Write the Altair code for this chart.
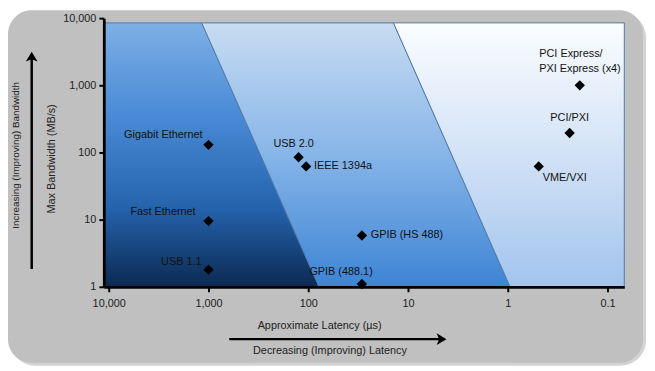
import altair as alt
import pandas as pd

# ---------------- data ----------------
names = ["Gigabit Ethernet", "USB 2.0", "IEEE 1394a", "Fast Ethernet", "USB 1.1",
         "GPIB (HS 488)", "GPIB (488.1)", "PCI Express/\nPXI Express (x4)", "PCI/PXI", "VME/VXI"]
latency_us = [1000, 125, 105, 1000, 1000, 29, 29, 0.19, 0.24, 0.49]
bandwidth_mbs = [130, 85, 62, 9.5, 1.8, 5.8, 1.1, 1000, 195, 62]

x_ticks = [10000, 1000, 100, 10, 1, 0.1]
x_tick_labels = ["10,000", "1,000", "100", "10", "1", "0.1"]
y_ticks = [1, 10, 100, 1000, 10000]
y_tick_labels = ["1", "10", "100", "1,000", "10,000"]

x_domain = [0.068, 11200]
y_domain = [1, 10000]

# region boundaries (latency at bandwidth = 1 and at the top of the shaded zone)
zone_bandwidth = [1, 8500]
boundary_1 = [78, 1170]
boundary_2 = [0.95, 14]

FONT = "Liberation Sans"

df = pd.DataFrame({"name": names, "latency": latency_us, "bandwidth": bandwidth_mbs})


def lookup_expr(vals, labels):
    pairs = ", ".join(f"'{v}': '{l}'" for v, l in zip(vals, labels))
    return "{" + pairs + "}[toString(datum.value)]"


x_scale = alt.Scale(type="log", domain=x_domain, reverse=True, nice=False)
y_scale = alt.Scale(type="log", domain=y_domain, nice=False)

x_axis = alt.Axis(values=x_ticks, labelExpr=lookup_expr(x_ticks, x_tick_labels),
                  title="Approximate Latency (µs)", titleX=218, titleY=39,
                  titleAlign="center", titleBaseline="middle",
                  grid=False, domainColor="black", domainWidth=2.8,
                  tickColor="black", tickWidth=2, tickSize=5, labelPadding=6,
                  labelFont=FONT, labelFontSize=11, labelColor="#222222",
                  titleFont=FONT, titleFontSize=11, titleFontWeight="normal",
                  titleColor="#222222", zindex=1, labelFlush=False, labelOverlap=False)
y_axis = alt.Axis(values=y_ticks, labelExpr=lookup_expr(y_ticks, y_tick_labels),
                  title="Max  Bandwidth (MB/s)", titleX=-53, titleY=142, titleAngle=270,
                  titleAlign="center", titleBaseline="middle",
                  grid=False, domainColor="black", domainWidth=2.8,
                  tickColor="black", tickWidth=2, tickSize=5, labelPadding=3,
                  labelFont=FONT, labelFontSize=11, labelColor="#222222",
                  titleFont=FONT, titleFontSize=11, titleFontWeight="normal",
                  titleColor="#222222", zindex=1, labelFlush=False, labelOverlap=False)

one = pd.DataFrame({"a": [0]})

# background panel with a soft shadow
shadow = alt.Chart(one).mark_rect(color="#a8a8a8", cornerRadius=26, opacity=0.5).encode(
    x=alt.value(-95), x2=alt.value(549), y=alt.value(-6), y2=alt.value(352))
bg = alt.Chart(one).mark_rect(color="#c0c0c0", cornerRadius=24).encode(
    x=alt.value(-97), x2=alt.value(546), y=alt.value(-8), y2=alt.value(349))


def grad(stops):
    return alt.Gradient(gradient="linear", x1=0, x2=0, y1=1, y2=0,
                        stops=[alt.GradientStop(color=c, offset=o) for o, c in stops])


def zone(left, right, stops):
    d = pd.DataFrame({"bw": zone_bandwidth, "lx": left, "rx": right})
    enc = dict(
        y=alt.Y("bw:Q", scale=y_scale, axis=y_axis),
        x=alt.X("lx:Q", scale=x_scale, axis=x_axis),
        x2="rx:Q",
    )
    return alt.Chart(d).mark_area(orient="horizontal", color=grad(stops),
                                  stroke="#4f78a8", strokeWidth=1).encode(**enc)


z1 = zone([x_domain[1]] * 2, boundary_1,
          [(0, "#0b2a52"), (0.3, "#2563ad"), (0.65, "#4a8ad6"), (1, "#7db0e5")])
z2 = zone(boundary_1, boundary_2,
          [(0, "#3d84d4"), (0.5, "#86b5e8"), (1, "#c8dcf2")])
z3 = zone(boundary_2, [x_domain[0]] * 2,
          [(0, "#a2c4ed"), (0.5, "#d2e2f6"), (1, "#fbfdff")])

base = alt.Chart(df).encode(
    x=alt.X("latency:Q", scale=x_scale, axis=x_axis),
    y=alt.Y("bandwidth:Q", scale=y_scale, axis=y_axis),
)
points = base.mark_point(shape="diamond", filled=True, color="black", size=110, opacity=1)

label_style = {
    "Gigabit Ethernet": ("right", -6, -10),
    "USB 2.0": ("center", -5, -13),
    "IEEE 1394a": ("left", 8, 0),
    "Fast Ethernet": ("right", -13, -9),
    "USB 1.1": ("right", -7, -8),
    "GPIB (HS 488)": ("left", 9, 0),
    "GPIB (488.1)": ("right", 11, -12),
    "PCI Express/\nPXI Express (x4)": ("left", -41, -32),
    "PCI/PXI": ("center", 0, -15),
    "VME/VXI": ("left", 4, 12),
}
labels = []
for nm, (al, dx, dy) in label_style.items():
    labels.append(
        base.transform_filter(alt.datum.name == nm).mark_text(
            align=al, baseline="middle", dx=dx, dy=dy, font=FONT, fontSize=11,
            color="#111111", lineBreak="\n", lineHeight=16
        ).encode(text="name:N")
    )

ARROW = "M0,-0.8L0.95,0.8L0,0.4L-0.95,0.8Z"
v_rule = alt.Chart(one).mark_rule(color="black", strokeWidth=2.5).encode(
    x=alt.value(-73), y=alt.value(41), y2=alt.value(254))
v_head = alt.Chart(one).mark_point(shape=ARROW, filled=True, color="black",
                                   size=156, opacity=1).encode(
    x=alt.value(-73), y=alt.value(39))
h_rule = alt.Chart(one).mark_rule(color="black", strokeWidth=2.5).encode(
    x=alt.value(127), x2=alt.value(340), y=alt.value(325))
h_head = alt.Chart(one).mark_point(shape=ARROW, filled=True, color="black",
                                   size=156, opacity=1, angle=90).encode(
    x=alt.value(342), y=alt.value(325))
v_text = alt.Chart(one).mark_text(text="Increasing  (Improving)  Bandwidth", angle=270,
                                  align="center", baseline="middle", font=FONT,
                                  fontSize=10, color="#222222").encode(
    x=alt.value(-89), y=alt.value(139))
h_text = alt.Chart(one).mark_text(text="Decreasing (Improving) Latency",
                                  align="center", baseline="middle", font=FONT,
                                  fontSize=11, color="#222222").encode(
    x=alt.value(229), y=alt.value(337))

chart = alt.layer(shadow, bg, z1, z2, z3, points, *labels, v_rule, v_head, h_rule, h_head,
                  v_text, h_text).properties(
    width=527, height=272,
    autosize=alt.AutoSizeParams(type="none"),
    padding={"left": 97, "top": 8, "right": 23, "bottom": 83},
).configure_view(stroke=None).configure(background="white")

chart.save("out.html", embed_options={"renderer": "svg", "actions": False})
